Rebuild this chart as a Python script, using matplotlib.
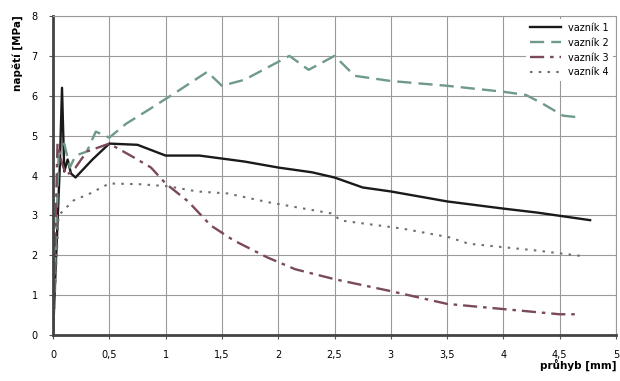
import matplotlib.pyplot as plt
from matplotlib.ticker import FuncFormatter

# vaznik 1 - black solid
x1 = [0, 0.06, 0.08, 0.1, 0.13, 0.16, 0.2, 0.35, 0.5, 0.75, 1.0, 1.3, 1.7, 2.0, 2.3, 2.5,
      2.75, 3.0, 3.5, 4.0, 4.3, 4.77]
y1 = [0, 4.2, 6.2, 4.1, 4.4, 4.05, 3.95, 4.4, 4.8, 4.77, 4.5, 4.5, 4.35, 4.2, 4.08, 3.95,
      3.7, 3.6, 3.35, 3.17, 3.07, 2.88]

# vaznik 2 - green dashed
x2 = [0, 0.05, 0.1, 0.15, 0.2, 0.3, 0.38, 0.5, 0.65, 0.85, 1.1, 1.37, 1.5, 1.7, 2.0, 2.1,
      2.27, 2.5, 2.68, 3.0, 3.5, 4.0, 4.2, 4.35, 4.53, 4.7]
y2 = [0, 4.5, 4.8, 4.2, 4.5, 4.6, 5.1, 4.95, 5.3, 5.65, 6.1, 6.6, 6.25, 6.4, 6.85, 7.0,
      6.65, 7.0, 6.5, 6.37, 6.25, 6.1, 6.02, 5.8, 5.5, 5.45]

# vaznik 3 - red dash-dot
x3 = [0, 0.04, 0.08, 0.12, 0.2, 0.3, 0.5, 0.72, 0.87, 1.0, 1.2, 1.4, 1.6, 1.9, 2.15, 2.5,
      3.0, 3.5, 4.0, 4.5, 4.65]
y3 = [0, 4.8, 4.3, 4.0, 4.2, 4.6, 4.8, 4.45, 4.2, 3.8, 3.35, 2.75, 2.38, 1.95, 1.65, 1.4,
      1.1, 0.78, 0.65, 0.52, 0.52]

# vaznik 4 - gray dotted
x4 = [0, 0.05, 0.12, 0.18, 0.33, 0.5, 0.78, 1.02, 1.28, 1.55, 1.91, 2.47, 2.56, 3.1, 3.52,
      3.69, 4.29, 4.73]
y4 = [0, 3.0, 3.2, 3.37, 3.55, 3.8, 3.78, 3.73, 3.6, 3.55, 3.33, 3.05, 2.87, 2.67, 2.45,
      2.29, 2.12, 1.97]

labels = ["vazník 1", "vazník 2", "vazník 3", "vazník 4"]

fig = plt.figure(figsize=(6.2, 3.81), dpi=100)
ax = fig.add_axes([53 / 620, 1 - 335 / 381, 563 / 620, 319 / 381])

ax.plot(x1, y1, color="#1a1a1a", lw=1.7, label=labels[0])
ax.plot(x2, y2, color="#6f9a88", lw=1.7, dashes=(6, 3), label=labels[1])
ax.plot(x3, y3, color="#7a4a58", lw=1.7, dashes=(6, 2.5, 1.5, 2.5), label=labels[2])
ax.plot(x4, y4, color="#707070", lw=1.5, dashes=(1.2, 3), label=labels[3])

ax.set_xlim(0, 5)
ax.set_ylim(0, 8)
ax.set_xticks([i * 0.5 for i in range(11)])
ax.set_yticks(range(9))
ax.xaxis.set_major_formatter(FuncFormatter(lambda v, p: ("%g" % v).replace(".", ",")))
ax.grid(True, color="#9a9a9a", lw=0.8)
ax.set_axisbelow(True)
ax.tick_params(labelsize=7, length=3, color="#555555")
ax.tick_params(axis="x", pad=8)
ax.tick_params(axis="y", pad=8)
for s in ["left", "bottom"]:
    ax.spines[s].set_linewidth(2)
    ax.spines[s].set_color("#444444")
for s in ["top", "right"]:
    ax.spines[s].set_color("#9a9a9a")

leg = ax.legend(loc="upper right", fontsize=7, frameon=True, handlelength=3.2,
                borderaxespad=0.3, labelspacing=0.5)
leg.get_frame().set_edgecolor("none")
leg.get_frame().set_facecolor("white")
leg.get_frame().set_alpha(1)

fig.text(0.028, 0.96, "napětí [MPa]", rotation=90, va="top", ha="center",
         fontsize=7.5, fontweight="bold")
fig.text(0.995, 0.025, "průhyb [mm]", ha="right", va="bottom",
         fontsize=7.5, fontweight="bold")

fig.savefig("out.png", dpi=100)
